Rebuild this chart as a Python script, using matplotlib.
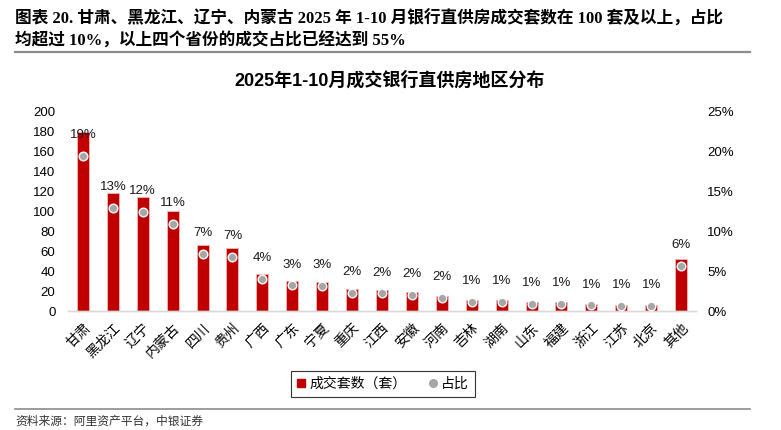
import matplotlib

matplotlib.use("Agg")
import matplotlib.pyplot as plt
from matplotlib.lines import Line2D
from matplotlib.ticker import FuncFormatter

plt.rcParams["font.family"] = ["Liberation Sans", "Noto Sans CJK SC", "DejaVu Sans"]
plt.rcParams["axes.unicode_minus"] = False

RED = "#C00000"
DOT = "#A6A6A6"
AXIS_GRAY = "#D9D9D9"
RULE_GRAY = "#8C8C8C"

regions = ["甘肃", "黑龙江", "辽宁", "内蒙古", "四川", "贵州", "广西", "广东", "宁夏", "重庆", "江西",
           "安徽", "河南", "吉林", "湖南", "山东", "福建", "浙江", "江苏", "北京", "其他"]
counts = [179, 118, 114, 100, 66, 63, 37, 30, 29, 22, 21, 19, 15, 11, 11, 9, 9, 7, 6, 6, 52]
shares = [0.194, 0.129, 0.124, 0.109, 0.071, 0.068, 0.040, 0.032, 0.031, 0.023, 0.022,
          0.020, 0.016, 0.011, 0.011, 0.009, 0.009, 0.007, 0.006, 0.006, 0.056]
left_ticks = [0, 20, 40, 60, 80, 100, 120, 140, 160, 180, 200]
right_ticks = [0, 0.05, 0.10, 0.15, 0.20, 0.25]

fig = plt.figure(figsize=(7.81, 4.30), dpi=100)
ax = fig.add_axes([68 / 781, 1 - 311 / 430, 628 / 781, 200 / 430])
ax2 = ax.twinx()

x = list(range(len(regions)))
ax.bar(x, counts, width=0.4, color=RED, edgecolor="#F2B8B8", linewidth=0.6, zorder=2)
ax2.plot(x, shares, ls="none", marker="o", markersize=6.2, markerfacecolor=DOT,
         markeredgecolor="white", markeredgewidth=1.0, zorder=3)
for xi, s in zip(x, shares):
    ax2.annotate(f"{s * 100:.0f}%", xy=(xi, s), xytext=(0, 15), textcoords="offset points",
                 ha="center", va="center", fontsize=9.5, color="#1a1a1a", zorder=4)

ax.set_xlim(-0.5, len(regions) - 0.5)
ax.set_ylim(0, 200)
ax2.set_ylim(0, 0.25)
ax.set_yticks(left_ticks)
ax2.set_yticks(right_ticks)
ax2.yaxis.set_major_formatter(FuncFormatter(lambda v, _: f"{v * 100:.0f}%"))

for a in (ax, ax2):
    for side in ("top", "left", "right"):
        a.spines[side].set_visible(False)
    a.spines["bottom"].set_color(AXIS_GRAY)
    a.spines["bottom"].set_linewidth(1.0)
    a.tick_params(axis="y", length=0, labelsize=9.5, colors="black")
ax.tick_params(axis="y", pad=9)
ax2.tick_params(axis="y", pad=8)
ax.set_xticks(x)
ax.set_xticklabels(regions, rotation=45, ha="right", rotation_mode="anchor", fontsize=10,
                   family=["Noto Sans CJK SC"])
ax.tick_params(axis="x", length=0, pad=7)

fig.text(390 / 781, 1 - 80 / 430, "2025年1-10月成交银行直供房地区分布", ha="center", va="center",
         fontsize=13, weight="bold")

fig.text(15 / 781, 1 - 19 / 430,
         "图表 20. 甘肃、黑龙江、辽宁、内蒙古 2025 年 1-10 月银行直供房成交套数在 100 套及以上，占比",
         ha="left", va="center", fontsize=12, weight="bold",
         family=["Liberation Serif", "Noto Sans CJK SC"])
fig.text(15 / 781, 1 - 41 / 430, "均超过 10%，以上四个省份的成交占比已经达到 55%",
         ha="left", va="center", fontsize=12, weight="bold",
         family=["Liberation Serif", "Noto Sans CJK SC"])
fig.add_artist(Line2D([15 / 781, 750 / 781], [1 - 52 / 430, 1 - 52 / 430], color=RULE_GRAY, lw=1.6))
fig.add_artist(Line2D([15 / 781, 750 / 781], [1 - 409 / 430, 1 - 409 / 430], color=RULE_GRAY, lw=1.2))
fig.text(15 / 781, 1 - 421 / 430, "资料来源：阿里资产平台，中银证券", ha="left", va="center",
         fontsize=8.5, style="italic", color="#333333", family=["Noto Sans CJK SC"])

handles = [
    Line2D([0], [0], marker="s", ls="none", markersize=5.5, markerfacecolor=RED, markeredgecolor=RED,
           label="成交套数（套）"),
    Line2D([0], [0], marker="o", ls="none", markersize=5.5, markerfacecolor=DOT, markeredgecolor=DOT,
           label="占比"),
]
leg = fig.legend(handles=handles, loc="center", bbox_to_anchor=(383 / 781, 1 - 384 / 430), ncol=2,
                 frameon=True, fancybox=False, edgecolor="black", handlelength=0.6,
                 handletextpad=0.3, columnspacing=1.6, borderpad=0.45,
                 prop={"family": ["Noto Sans CJK SC"], "size": 10})
leg.get_frame().set_linewidth(0.8)

fig.savefig("out.png", dpi=100)
